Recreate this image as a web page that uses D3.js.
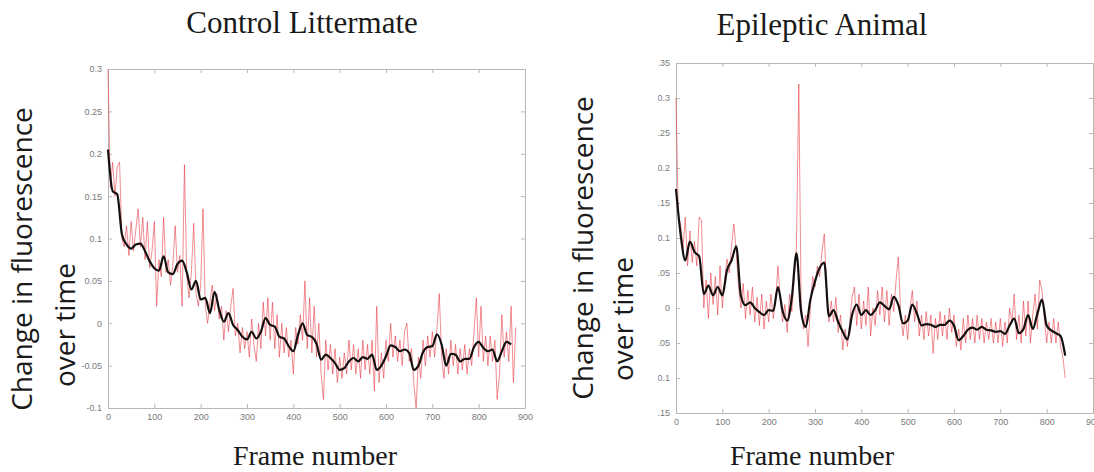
<!DOCTYPE html>
<html>
<head>
<meta charset="utf-8">
<script src="https://cdn.jsdelivr.net/npm/d3@7"></script>
<style>
  html, body { margin: 0; padding: 0; background: #ffffff; }
  svg { display: block; }
</style>
</head>
<body>
<div id="chart"></div>
<script>
// raw traces are read every 5 frames, smoothed traces every 10 frames
const rawStep = 5;
const smoothStep = 10;

const controlRaw = [
  0.30, 0.16, 0.19, 0.15, 0.185, 0.19, 0.10, 0.09, 0.115, 0.08,
  0.12, 0.085, 0.11, 0.135, 0.09, 0.125, 0.075, 0.12, 0.065, 0.085,
  0.12, 0.02, 0.075, 0.055, 0.125, 0.06, 0.075, 0.045, 0.07, 0.115,
  0.06, 0.08, 0.02, 0.187, 0.055, 0.03, 0.06, 0.118, 0.035, 0.02,
  0.045, 0.135, 0.02, 0.0, 0.025, 0.045, 0.015, 0.035, 0.005, 0.02,
  -0.02, 0.015, -0.01, 0.02, 0.041, -0.015, 0.0, -0.035, -0.005, -0.03,
  -0.01, -0.04, 0.005, -0.025, -0.045, 0.0, -0.03, 0.025, -0.015, 0.03,
  -0.02, 0.025, -0.03, 0.01, -0.04, 0.0, -0.035, -0.005, -0.04, -0.02,
  -0.06, -0.005, -0.025, 0.01, -0.02, 0.05, -0.03, 0.03, -0.035, 0.02,
  -0.04, 0.0, -0.06, -0.09, -0.02, -0.055, -0.025, -0.06, -0.03, -0.07,
  -0.04, -0.065, -0.035, -0.06, -0.02, -0.055, -0.025, -0.06, -0.03, -0.065,
  -0.02, -0.055, -0.025, -0.06, -0.02, -0.08, 0.02, -0.07, -0.035, -0.065,
  -0.02, -0.045, 0.0, -0.04, -0.015, -0.045, -0.02, -0.05, -0.01, 0.0,
  -0.045, -0.03, -0.07, -0.10, -0.04, -0.065, -0.02, -0.05, -0.015, -0.04,
  -0.01, -0.04, -0.005, 0.035, -0.04, -0.065, -0.03, -0.06, -0.02, -0.05,
  -0.025, -0.06, -0.03, -0.055, -0.025, -0.06, -0.03, -0.05, -0.01, 0.03,
  -0.04, 0.02, -0.045, -0.015, -0.05, -0.015, -0.045, -0.02, -0.09, -0.06,
  0.01, -0.04, -0.01, -0.045, 0.02, -0.07, -0.005
];

const controlSmooth = [
  0.205, 0.156, 0.152, 0.105, 0.093, 0.088, 0.093, 0.094, 0.085, 0.073,
  0.065, 0.062, 0.079, 0.060, 0.058, 0.070, 0.074, 0.060, 0.040, 0.050,
  0.028, 0.030, 0.012, 0.037, 0.016, 0.002, 0.012, -0.002, -0.008, -0.016,
  -0.019, -0.010, -0.018, -0.010, 0.006, -0.002, -0.004, -0.016, -0.018, -0.027,
  -0.033, -0.014, 0.000, -0.014, -0.016, -0.024, -0.043, -0.037, -0.041, -0.047,
  -0.055, -0.053, -0.045, -0.041, -0.045, -0.040, -0.042, -0.037, -0.055, -0.050,
  -0.039, -0.026, -0.028, -0.033, -0.031, -0.035, -0.055, -0.050, -0.034, -0.028,
  -0.027, -0.013, -0.025, -0.050, -0.036, -0.037, -0.045, -0.042, -0.042, -0.028,
  -0.022, -0.029, -0.033, -0.031, -0.045, -0.033, -0.022, -0.025
];

const epilepticRaw = [
  0.30, 0.13, 0.12, 0.085, 0.13, 0.06, 0.11, 0.065, 0.095, 0.06,
  0.13, 0.125, 0.0, 0.04, -0.015, 0.05, 0.005, 0.045, -0.01, 0.06,
  0.0, 0.04, 0.07, 0.05, 0.09, 0.12, 0.08, 0.03, 0.0, 0.035,
  -0.015, 0.025, -0.01, 0.03, -0.02, 0.015, -0.025, 0.02, -0.03, 0.01,
  -0.02, 0.02, -0.015, 0.01, 0.06, 0.015, -0.02, 0.005, -0.035, 0.02,
  -0.005, 0.04, 0.09, 0.32, 0.01, -0.03, -0.01, -0.055, 0.0, 0.045,
  0.03, 0.06, 0.045, 0.08, 0.106, 0.03, -0.02, 0.01, -0.02, 0.015,
  -0.035, -0.01, -0.06, -0.03, -0.055, -0.02, 0.015, 0.03, -0.025, 0.02,
  -0.03, 0.01, -0.025, 0.03, -0.04, 0.0, -0.025, 0.025, -0.01, 0.03,
  -0.02, 0.025, -0.025, 0.02, -0.005, 0.04, 0.073, -0.01, -0.04, -0.01,
  -0.045, 0.0, 0.025, -0.02, 0.01, -0.04, -0.01, -0.045, -0.005, -0.04,
  -0.01, -0.065, -0.015, -0.045, -0.005, -0.04, -0.01, -0.045, 0.0, -0.035,
  -0.01, -0.055, -0.03, -0.06, -0.015, -0.05, -0.01, -0.045, -0.015, -0.05,
  -0.01, -0.045, -0.015, -0.05, -0.02, -0.045, -0.015, -0.05, -0.02, -0.05,
  -0.015, -0.055, -0.02, -0.05, 0.0, -0.02, 0.02, -0.045, -0.01, -0.05,
  0.01, -0.04, 0.01, -0.05, -0.01, 0.02, -0.03, 0.04, 0.025, -0.015,
  -0.05, -0.02, -0.05, -0.015, -0.05, -0.02, -0.055, -0.07, -0.10
];

const epilepticSmooth = [
  0.170, 0.105, 0.068, 0.095, 0.080, 0.074, 0.020, 0.032, 0.018, 0.030,
  0.018, 0.054, 0.068, 0.088, 0.018, 0.004, 0.008, 0.000, -0.006, -0.010,
  -0.003, -0.004, 0.030, -0.004, -0.018, 0.015, 0.078, -0.005, -0.027, 0.012,
  0.038, 0.057, 0.065, -0.012, -0.003, -0.020, -0.034, -0.045, -0.010, 0.005,
  -0.010, -0.003, -0.010, -0.003, 0.008, 0.003, -0.002, 0.016, 0.004, -0.022,
  -0.018, 0.005, -0.008, -0.025, -0.023, -0.024, -0.027, -0.024, -0.024, -0.018,
  -0.025, -0.046, -0.040, -0.031, -0.028, -0.031, -0.027, -0.031, -0.032, -0.034,
  -0.033, -0.037, -0.025, -0.015, -0.036, -0.030, -0.010, -0.030, -0.008, 0.012,
  -0.025, -0.032, -0.036, -0.040, -0.068
];

const xTicks = [0, 100, 200, 300, 400, 500, 600, 700, 800, 900];
const controlYTicks = [-0.1, -0.05, 0, 0.05, 0.1, 0.15, 0.2, 0.25, 0.3];
const epilepticYTicks = [-0.15, -0.1, -0.05, 0, 0.05, 0.1, 0.15, 0.2, 0.25, 0.3, 0.35];

const titles = ["Control Littermate", "Epileptic Animal"];
const yLabelLines = ["Change in fluorescence", "over time"];
const xLabel = "Frame number";

const width = 1094;
const height = 472;

const svg = d3.select("#chart")
  .append("svg")
  .attr("width", width)
  .attr("height", height);

const fmt = (d) => String(+d.toFixed(2));

function drawPanel(opts) {
  const x = d3.scaleLinear().domain([0, 900]).range([opts.left, opts.right]);
  const y = d3.scaleLinear().domain(opts.yDomain).range([opts.bottom, opts.top]);
  const g = svg.append("g");

  // the source figure was a cropped raster, so the y tick labels are cut
  // clip rect is in the left axis group's own (translated) coordinates
  const clipId = "clip-" + opts.id;
  svg.append("clipPath").attr("id", clipId)
    .append("rect")
    .attr("x", opts.cropLeft - opts.left)
    .attr("y", opts.cropTop)
    .attr("width", width)
    .attr("height", height);

  const axisColor = "#b8b8b8";
  const labelColor = "#7a7a7a";

  // bottom axis, ticks pointing inward
  g.append("g")
    .attr("transform", `translate(0,${opts.bottom})`)
    .call(d3.axisBottom(x).tickValues(xTicks).tickSizeInner(-4).tickSizeOuter(0).tickPadding(6))
    .call((a) => a.selectAll("text").attr("fill", labelColor))
    .attr("font-family", "Liberation Sans, Arial, sans-serif")
    .attr("font-size", 9);

  // top axis
  g.append("g")
    .attr("transform", `translate(0,${opts.top})`)
    .call(d3.axisTop(x).tickValues(xTicks).tickSizeInner(-4).tickSizeOuter(0).tickFormat(""));

  // left axis
  g.append("g")
    .attr("transform", `translate(${opts.left},0)`)
    .attr("clip-path", `url(#${clipId})`)
    .call(d3.axisLeft(y).tickValues(opts.yTicks).tickSizeInner(-4).tickSizeOuter(0).tickPadding(6).tickFormat(fmt))
    .call((a) => a.selectAll("text").attr("fill", labelColor))
    .attr("font-family", "Liberation Sans, Arial, sans-serif")
    .attr("font-size", 9);

  // right axis
  g.append("g")
    .attr("transform", `translate(${opts.right},0)`)
    .call(d3.axisRight(y).tickValues(opts.yTicks).tickSizeInner(-4).tickSizeOuter(0).tickFormat(""));

  g.selectAll(".domain, .tick line").attr("stroke", axisColor);

  // raw trace
  const rawLine = d3.line()
    .x((d, i) => x(i * rawStep))
    .y((d) => y(d));
  g.append("path")
    .datum(opts.raw)
    .attr("fill", "none")
    .attr("stroke", "#e5303a")
    .attr("stroke-opacity", 0.55)
    .attr("stroke-width", 1)
    .attr("d", rawLine);

  // smoothed trace
  const smoothLine = d3.line()
    .x((d, i) => x(i * smoothStep))
    .y((d) => y(d))
    .curve(d3.curveMonotoneX);
  g.append("path")
    .datum(opts.smooth)
    .attr("fill", "none")
    .attr("stroke", "#141010")
    .attr("stroke-width", 2.2)
    .attr("stroke-linejoin", "round")
    .attr("d", smoothLine);

  // title
  svg.append("text")
    .attr("x", opts.titleX)
    .attr("y", opts.titleY)
    .attr("text-anchor", "middle")
    .attr("font-family", "Liberation Serif, Times New Roman, serif")
    .attr("font-size", 31)
    .attr("fill", "#1a1a1a")
    .text(opts.title);

  // x label
  svg.append("text")
    .attr("x", opts.xLabelX)
    .attr("y", 465)
    .attr("text-anchor", "middle")
    .attr("font-family", "Liberation Serif, Times New Roman, serif")
    .attr("font-size", 28)
    .attr("fill", "#1a1a1a")
    .text(xLabel);

  // y label, two lines
  yLabelLines.forEach((line, i) => {
    svg.append("text")
      .attr("transform", `translate(${opts.yLabelX[i]},${opts.yLabelY[i]}) rotate(-90)`)
      .attr("text-anchor", "middle")
      .attr("font-family", "Open Sans, Noto Sans, sans-serif")
      .attr("font-size", 28)
      .attr("fill", "#1a1a1a")
      .text(line);
  });
}

drawPanel({
  id: "control",
  left: 108, right: 525, top: 69, bottom: 408,
  yDomain: [-0.1, 0.3],
  yTicks: controlYTicks,
  raw: controlRaw,
  smooth: controlSmooth,
  title: titles[0], titleX: 302, titleY: 33,
  xLabelX: 315,
  yLabelX: [32, 75], yLabelY: [259, 325],
  cropLeft: 0, cropTop: 66
});

drawPanel({
  id: "epileptic",
  left: 676, right: 1093, top: 63, bottom: 413,
  yDomain: [-0.15, 0.35],
  yTicks: epilepticYTicks,
  raw: epilepticRaw,
  smooth: epilepticSmooth,
  title: titles[1], titleX: 822, titleY: 35,
  xLabelX: 812,
  yLabelX: [593, 633], yLabelY: [248, 319],
  cropLeft: 658, cropTop: 0
});
</script>
</body>
</html>
